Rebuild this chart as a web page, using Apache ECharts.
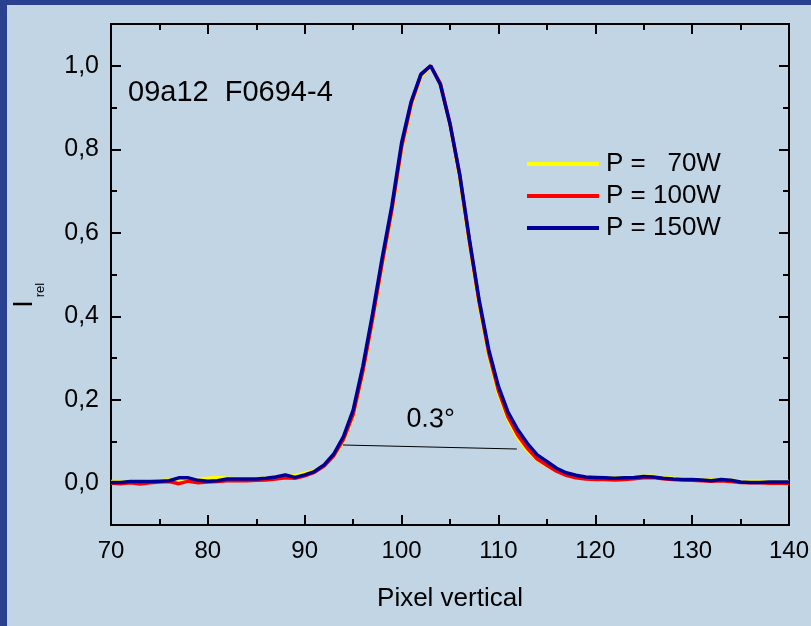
<!DOCTYPE html>
<html>
<head>
<meta charset="utf-8">
<script src="https://cdn.jsdelivr.net/npm/echarts@6/dist/echarts.min.js"></script>
<style>
html,body{margin:0;padding:0;background:#c1d5e5;}
#chart{width:811px;height:626px;}
</style>
</head>
<body>
<div id="chart"></div>
<script>
// ---- data ----
const pixels = [];
for (let p = 70; p <= 140; p++) pixels.push(p);

const p70 = [
  0.004,0.003,0.004,0.004,0.005,0.006,0.008,0.010,0.011,0.010,
  0.012,0.014,0.012,0.011,0.011,0.011,0.012,0.014,0.018,0.018,
  0.024,0.030,0.043,0.065,0.103,0.162,0.263,0.388,0.522,0.650,
  0.800,0.905,0.975,1.000,0.955,0.858,0.732,0.573,0.428,0.305,
  0.215,0.152,0.108,0.078,0.056,0.042,0.030,0.021,0.016,0.014,
  0.013,0.013,0.013,0.014,0.015,0.017,0.017,0.014,0.012,0.011,
  0.010,0.009,0.008,0.008,0.007,0.005,0.005,0.005,0.004,0.004,
  0.004
];
const p100 = [
  0.000,-0.001,0.001,-0.002,0.001,0.003,0.004,-0.001,0.005,0.001,
  0.003,0.004,0.006,0.006,0.006,0.007,0.008,0.010,0.013,0.012,
  0.018,0.026,0.041,0.066,0.105,0.165,0.268,0.393,0.528,0.655,
  0.805,0.910,0.978,1.000,0.958,0.862,0.738,0.580,0.435,0.312,
  0.222,0.158,0.115,0.083,0.058,0.043,0.029,0.019,0.013,0.010,
  0.009,0.009,0.008,0.009,0.011,0.013,0.014,0.011,0.009,0.008,
  0.007,0.006,0.005,0.006,0.004,0.002,0.001,0.001,0.000,0.000,
  0.000
];
const p150 = [
  0.002,0.002,0.004,0.004,0.004,0.005,0.006,0.013,0.013,0.007,
  0.005,0.006,0.010,0.010,0.010,0.010,0.012,0.015,0.020,0.014,
  0.020,0.028,0.044,0.070,0.112,0.175,0.280,0.405,0.540,0.665,
  0.815,0.915,0.980,1.000,0.955,0.860,0.740,0.585,0.440,0.320,
  0.232,0.170,0.128,0.095,0.068,0.052,0.036,0.025,0.019,0.015,
  0.014,0.013,0.012,0.013,0.014,0.016,0.015,0.012,0.010,0.009,
  0.009,0.008,0.006,0.009,0.007,0.003,0.002,0.002,0.003,0.003,
  0.003
];
const seriesNames = ['P =   70W', 'P = 100W', 'P = 150W'];
const yMajorTicks = [0, 0.2, 0.4, 0.6, 0.8, 1.0];
const yMinorTicks = [-0.1, 0.1, 0.3, 0.5, 0.7, 0.9, 1.1];
const sampleLabel = '09a12  F0694-4';
const widthLabel = '0.3°';
const widthLine = [[93.95, 0.0916], [111.9, 0.082]];

// ---- chart ----
const FONT = 'Liberation Sans, Arial, sans-serif';
const pairs = arr => pixels.map((p, i) => [p, arr[i]]);
const axisLineStyle = { color: '#000', width: 2 };

const yBase = (pos, ticks, len, labels) => ({
  type: 'value', position: pos, min: -0.1, max: 1.1,
  splitLine: { show: false },
  axisLine: { show: true, onZero: false, lineStyle: axisLineStyle },
  axisTick: { show: true, inside: true, length: len, customValues: ticks, lineStyle: { color: '#000', width: 2 } },
  axisLabel: labels ? {
    show: true, customValues: ticks, fontSize: 25, fontFamily: FONT, color: '#000', margin: 12,
    formatter: v => v.toFixed(1).replace('.', ',')
  } : { show: false }
});

const chart = echarts.init(document.getElementById('chart'), null, { renderer: 'canvas' });
chart.setOption({
  backgroundColor: '#c1d5e5',
  animation: false,
  grid: { left: 111, right: 22, top: 24, bottom: 101, containLabel: false, outerBoundsMode: 'none' },
  title: {
    text: sampleLabel, left: 123, top: 73,
    textStyle: { fontSize: 29, fontWeight: 'normal', fontFamily: FONT, color: '#000' }
  },
  legend: {
    orient: 'vertical', left: 522, top: 146, itemGap: 6,
    icon: 'rect', itemWidth: 72, itemHeight: 4,
    textStyle: { fontSize: 26, fontFamily: FONT, color: '#000', padding: [0, 0, 0, 2] },
    data: seriesNames
  },
  xAxis: [
    {
      type: 'value', position: 'bottom', min: 70, max: 140, interval: 10,
      name: 'Pixel vertical', nameLocation: 'middle', nameGap: 61,
      nameTextStyle: { fontSize: 26, fontFamily: FONT, color: '#000' },
      splitLine: { show: false },
      axisLine: { show: true, onZero: false, lineStyle: axisLineStyle },
      axisTick: { show: true, inside: true, length: 10, lineStyle: { color: '#000', width: 2 } },
      minorTick: { show: true, splitNumber: 2, length: 6, lineStyle: { color: '#000', width: 2 } },
      axisLabel: { fontSize: 24, fontFamily: FONT, color: '#000', margin: 14 }
    },
    {
      type: 'value', position: 'top', min: 70, max: 140, interval: 10,
      splitLine: { show: false },
      axisLine: { show: true, onZero: false, lineStyle: axisLineStyle },
      axisTick: { show: true, inside: true, length: 10, lineStyle: { color: '#000', width: 2 } },
      minorTick: { show: true, splitNumber: 2, length: 6, lineStyle: { color: '#000', width: 2 } },
      axisLabel: { show: false }
    }
  ],
  yAxis: [
    yBase('left', yMajorTicks, 10, true),
    yBase('left', yMinorTicks, 6, false),
    yBase('right', yMajorTicks, 10, false),
    yBase('right', yMinorTicks, 6, false)
  ],
  graphic: [
    { type: 'rect', left: 0, top: 0, shape: { width: 7, height: 626 }, style: { fill: '#29418e' }, z: 100 },
    { type: 'rect', left: 0, top: 0, shape: { width: 811, height: 5 }, style: { fill: '#29418e' }, z: 100 },
    { type: 'text', x: 25, y: 304, rotation: Math.PI / 2,
      style: { text: 'I', fontSize: 27, fontFamily: FONT, fill: '#000', align: 'center', verticalAlign: 'middle' } },
    { type: 'text', x: 40, y: 290, rotation: Math.PI / 2,
      style: { text: 'rel', fontSize: 13, fontFamily: FONT, fill: '#000', align: 'center', verticalAlign: 'middle' } }
  ],
  series: [
    { name: seriesNames[0], type: 'line', data: pairs(p70), showSymbol: false, symbol: 'none',
      color: '#ffff00', lineStyle: { color: '#ffff00', width: 3.5 }, z: 2 },
    { name: seriesNames[1], type: 'line', data: pairs(p100), showSymbol: false, symbol: 'none',
      color: '#ff0000', lineStyle: { color: '#ff0000', width: 3.5 }, z: 3 },
    { name: seriesNames[2], type: 'line', data: pairs(p150), showSymbol: false, symbol: 'none',
      color: '#000096', lineStyle: { color: '#000096', width: 3.5 }, z: 4,
      markLine: {
        silent: true, symbol: ['none', 'none'], animation: false,
        lineStyle: { color: '#000', width: 1, type: 'solid' },
        label: { show: true, position: 'middle', formatter: widthLabel, fontSize: 27, fontFamily: FONT, color: '#000', distance: 14 },
        data: [[{ coord: widthLine[0] }, { coord: widthLine[1] }]]
      }
    }
  ]
});
</script>
</body>
</html>
